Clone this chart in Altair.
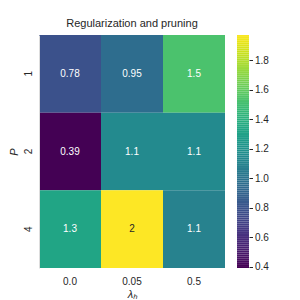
import altair as alt
import pandas as pd
import numpy as np

lambdas = ["0.0", "0.05", "0.5"]
p_vals = ["1", "2", "4"]
values = [
    [0.78, 0.95, 1.52],
    [0.39, 1.14, 1.14],
    [1.32, 1.97, 1.08],
]
cbar_ticks = [0.4, 0.6, 0.8, 1.0, 1.2, 1.4, 1.6, 1.8]

rows = []
for i, p in enumerate(p_vals):
    for j, l in enumerate(lambdas):
        rows.append({"lam": l, "P": p, "v": values[i][j]})
df = pd.DataFrame(rows)

vmin = float(df["v"].min())
vmax = float(df["v"].max())
FONT = "Liberation Sans"
TXT = "#262626"

cscale = alt.Scale(scheme="viridis", domain=[vmin, vmax])

xenc = alt.X("lam:N", sort=lambdas, title="λₕ",
             axis=alt.Axis(labelAngle=0, ticks=False, domain=False,
                           labelPadding=8, titlePadding=2, titleFontStyle="italic",
                           titleFontWeight="normal", titleFontSize=11))
yenc = alt.Y("P:N", sort=p_vals, title="P",
             axis=alt.Axis(labelAngle=-90, ticks=False, domain=True,
                           domainColor="#dddddd", labelPadding=6, titlePadding=4,
                           titleFontStyle="italic", titleFontWeight="normal",
                           titleFontSize=11))

heat = alt.Chart(df).mark_rect().encode(
    x=xenc, y=yenc,
    color=alt.Color("v:Q", scale=cscale, legend=None),
)
labels = alt.Chart(df).mark_text(fontSize=10, font=FONT).encode(
    x=alt.X("lam:N", sort=lambdas),
    y=alt.Y("P:N", sort=p_vals),
    text=alt.Text("v:Q", format=".2~g"),
    color=alt.condition(alt.datum.v > 1.7, alt.value(TXT), alt.value("white")),
)

edges = np.linspace(vmin, vmax, 121)
cb = pd.DataFrame({"a": edges[:-1], "b": edges[1:]})
cbar = alt.Chart(cb).mark_rect().encode(
    x=alt.value(198), x2=alt.value(210),
    y=alt.Y("a:Q", scale=alt.Scale(domain=[vmin, vmax], nice=False, zero=False),
            title=None,
            axis=alt.Axis(orient="right", values=cbar_ticks, format=".1f",
                          tickSize=3.5, tickColor=TXT, domain=False, grid=False,
                          labelPadding=2, offset=24)),
    y2="b:Q",
    color=alt.Color("a:Q", scale=cscale, legend=None),
)

chart = alt.layer(heat + labels, cbar).resolve_scale(
    y="independent"
).properties(
    width=186, height=233,
    title=alt.TitleParams("Regularization and pruning", fontSize=11, font=FONT,
                          color=TXT, fontWeight="normal", offset=6),
    padding={"left": 0, "top": 10, "right": 5, "bottom": 0},
).configure_view(stroke=None).configure_axis(
    labelFont=FONT, titleFont=FONT, labelFontSize=10, labelColor=TXT,
    titleColor=TXT,
)

chart.save("out.html", embed_options={"renderer": "svg", "actions": False})
